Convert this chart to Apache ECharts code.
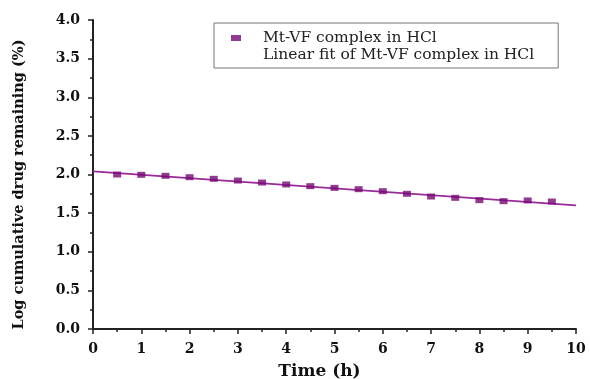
<!DOCTYPE html>
<html><head><meta charset="utf-8">
<script src="https://cdn.jsdelivr.net/npm/echarts@6/dist/echarts.min.js"></script>
<style>html,body{margin:0;padding:0;background:#fff}#c{width:590px;height:379px}</style>
</head><body><div id="c"></div>
<script>
const timeH = [0.5,1,1.5,2,2.5,3,3.5,4,4.5,5,5.5,6,6.5,7,7.5,8,8.5,9,9.5];
const logRemaining = [2.00,1.996,1.983,1.965,1.944,1.922,1.896,1.871,1.849,1.827,1.81,1.784,1.75,1.715,1.698,1.668,1.655,1.664,1.65];
const fitX = [0,10];
const fitY = [2.04,1.60];
const xTicks = [0,1,2,3,4,5,6,7,8,9,10];
const yTicks = [0,0.5,1,1.5,2,2.5,3,3.5,4];
const seriesNames = ['Mt-VF complex in HCl','Linear fit of Mt-VF complex in HCl'];

const font = '"DejaVu Serif","Liberation Serif",serif';
const chart = echarts.init(document.getElementById('c'));
chart.setOption({
  animation:false,
  grid:{left:93,right:14,top:20,bottom:50,outerBoundsMode:'none',containLabel:false},
  legend:{
    orient:'vertical', left:214, top:23,
    padding:[7,24,5,17], itemGap:1, itemWidth:10, itemHeight:6,
    borderColor:'#777', borderWidth:1,
    textStyle:{fontFamily:font,fontSize:15.5,color:'#222',padding:[0,0,0,17]},
    data:[
      {name:seriesNames[0], icon:'rect'},
      {name:seriesNames[1], icon:'rect', itemStyle:{opacity:0}}
    ]
  },
  xAxis:{
    type:'value', min:xTicks[0], max:xTicks[xTicks.length-1], interval:1,
    name:'Time (h)', nameLocation:'middle', nameGap:34,
    nameTextStyle:{fontFamily:font,fontSize:17,fontWeight:'bold',color:'#111',padding:[0,30,0,0]},
    axisLine:{lineStyle:{color:'#222',width:2}},
    axisTick:{show:true,length:5,lineStyle:{color:'#222',width:1.5}},
    minorTick:{show:true,splitNumber:2,length:3,lineStyle:{color:'#222',width:1.5}},
    axisLabel:{fontFamily:font,fontSize:14,fontWeight:'bold',color:'#111',margin:13},
    splitLine:{show:false}
  },
  yAxis:{
    type:'value', min:yTicks[0], max:yTicks[yTicks.length-1], interval:0.5,
    name:'Log cumulative drug remaining (%)', nameLocation:'middle', nameGap:66,
    nameTextStyle:{fontFamily:font,fontSize:14.5,fontWeight:'bold',color:'#111',padding:[0,20,0,0]},
    axisLine:{show:true,lineStyle:{color:'#222',width:2}},
    axisTick:{show:true,length:5,lineStyle:{color:'#222',width:1.5}},
    minorTick:{show:true,splitNumber:2,length:3,lineStyle:{color:'#222',width:1.5}},
    axisLabel:{fontFamily:font,fontSize:14,fontWeight:'bold',color:'#111',margin:13,
      formatter:v=>v.toFixed(1)},
    splitLine:{show:false}
  },
  series:[
    {name:seriesNames[1], type:'line', data:fitX.map((x,i)=>[x,fitY[i]]),
     symbol:'none', lineStyle:{color:'#9a2a9a',width:1.6}, itemStyle:{color:'#9a2a9a'}, z:2},
    {name:seriesNames[0], type:'scatter', data:timeH.map((x,i)=>[x,logRemaining[i]]),
     symbol:'rect', symbolSize:[8,6], itemStyle:{color:'#760a74'}, z:3}
  ]
});
</script></body></html>
